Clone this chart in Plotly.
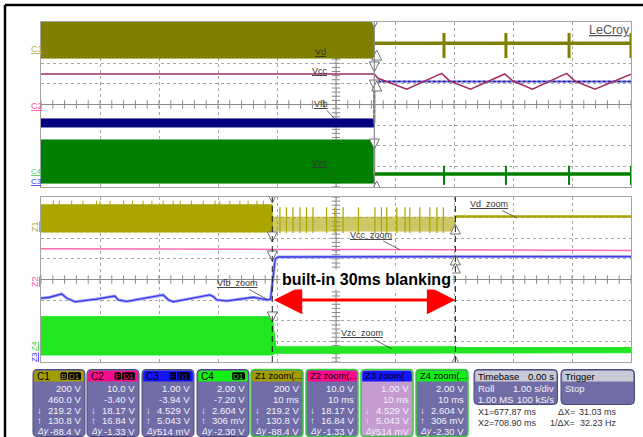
import plotly.graph_objects as go

W, H = 643, 437

# ---------------- top grid: 10 s roll, 1 s/div (vertical values in divisions) ----------------
event_t = 5.65                      # controller shuts down here
vd_band_t = [0.0, 5.65]
vd_band_hi = [4.3, 4.3]
vd_band_lo = [2.25, 2.25]
vd_idle_t = [5.65, 10.0]
vd_idle_y = [2.97, 2.97]
restart_t = [6.83, 7.88, 8.95, 10.0]
vd_restart_hi, vd_restart_lo = 3.47, 2.25

vcc_t = [0.0, 5.65, 5.71, 6.20, 6.79, 6.93, 7.28, 7.86, 8.00, 8.33, 8.91, 9.05, 9.39, 9.98, 10.0]
vcc_y = [1.48, 1.48, 1.27, 0.74, 1.51, 1.14, 0.74, 1.48, 1.14, 0.74, 1.51, 1.14, 0.74, 1.48, 1.47]

vfb_band_t = [0.0, 5.65]
vfb_band_hi = [-0.70, -0.70]
vfb_band_lo = [-1.09, -1.09]
vfb_idle_t = [5.65, 5.65, 10.0]
vfb_idle_y = [-0.90, 1.12, 1.12]

vzc_band_t = [0.0, 5.65]
vzc_band_hi = [-1.72, -1.72]
vzc_band_lo = [-3.81, -3.81]
vzc_idle_t = [5.65, 10.0]
vzc_idle_y = [-3.37, -3.37]
vzc_restart_hi, vzc_restart_lo = -2.97, -3.90

# ---------------- bottom grid: 10 ms/div zoom window ----------------
zoom_t0 = 638.67                    # ms at left edge of zoom window
cursor_x1 = 677.87
cursor_x2 = 708.90

# times below are relative to zoom_t0 (ms)
zvd_t = [0.0, 39.2]
zvd_hi = [3.62, 3.62]
zvd_lo = [2.30, 2.30]
zvd_spike_t = [2.1, 3.1, 5.2, 7.1, 9.4, 10.0, 11.7, 14.0, 15.5, 17.3, 18.8, 20.7,
               22.4, 23.6, 25.5, 27.5, 29.5, 30.3, 32.0, 33.7, 35.1, 36.6, 37.7]
zvd_spike_top = 3.82
zvd_blank_t = [39.2, 70.23]
zvd_blank_hi = [3.02, 3.02]
zvd_blank_lo = [2.35, 2.35]
zvd_blank_spike_t = [40.5, 41.6, 42.7, 43.9, 45.0, 46.1, 48.4, 49.8, 51.2, 53.8, 56.6,
                     57.7, 58.6, 60.3, 61.7, 62.5, 64.2, 65.9, 67.1, 68.2]
zvd_blank_spike_hi, zvd_blank_spike_lo = 3.50, 2.25
zvd_idle_t = [70.23, 100.0]
zvd_idle_y = [3.05, 3.05]

zvcc_t = [0.0, 39.2, 40.0, 55.0, 70.0, 85.0, 100.0]
zvcc_y = [1.49, 1.49, 1.46, 1.45, 1.43, 1.42, 1.41]

zvfb_t = [0, 1.5, 3.5, 4.4, 5.8, 9.4, 12.5, 13.1, 14.5, 20.2, 20.7, 21.6, 22.4, 28.6,
          29.2, 29.8, 31.5, 36.0, 38.3, 38.9, 39.3, 39.7, 40.2, 55, 70, 100]
zvfb_y = [-0.91, -0.86, -0.70, -0.91, -1.08, -0.95, -0.80, -0.99, -1.06, -0.80, -0.75,
          -0.99, -1.08, -0.75, -0.83, -0.99, -1.04, -0.86, -0.99, -0.96, -0.02, 0.99,
          1.09, 1.11, 1.11, 1.11]

zvzc_t = [0.0, 39.2, 39.8, 70.2, 70.3, 100.0]
zvzc_hi = [-1.80, -1.80, -3.26, -3.26, -3.30, -3.30]
zvzc_lo = [-3.66, -3.66, -3.58, -3.56, -3.55, -3.55]

# cursor markers (trace levels where cursors cross), divisions
top_marks_down = [3.71, 1.58, 0.70, -2.16]
top_marks_up = [2.64, 1.14, -3.71]
x1_marks = [3.71, 1.82, 0.90, -2.06]
x2_marks = [2.69, 1.19, 0.80, -3.71]

# readout panels
channel_boxes = [
    ("C1", ["B", "D1"], ["200 V", "460.0 V", "219.2 V", "130.8 V", "-88.4 V"]),
    ("C2", ["F", "D1"], ["10.0 V", "-3.40 V", "18.17 V", "16.84 V", "-1.33 V"]),
    ("C3", ["F", "D1"], ["1.00 V", "-3.94 V", "4.529 V", "5.043 V", "514 mV"]),
    ("C4", ["D1"], ["2.00 V", "-7.20 V", "2.604 V", "306 mV", "-2.30 V"]),
    ("Z1 zoom(...", [], ["200 V", "10 ms", "219.2 V", "130.8 V", "-88.4 V"]),
    ("Z2 zoom(...", [], ["10.0 V", "10 ms", "18.17 V", "16.84 V", "-1.33 V"]),
    ("Z3 zoom(", [], ["1.00 V", "10 ms", "4.529 V", "5.043 V", "514 mV"]),
    ("Z4 zoom(...", [], ["2.00 V", "10 ms", "2.604 V", "306 mV", "-2.30 V"]),
]

FONT = "Liberation Sans, Arial, sans-serif"
OLIVE, MAROON, NAVY, GREEN = "#808000", "#a32c62", "#000080", "#008000"
Z_OLIVE, Z_PINK, Z_BLUE, Z_GREEN = "#aba500", "#ff6ab4", "#3a3ae8", "#22e622"

fig = go.Figure()


def band(t, hi, lo):
    return list(t) + list(t)[::-1], list(hi) + list(lo)[::-1]


def spikes(ts, lo, hi):
    xs, ys = [], []
    for t in ts:
        xs += [t, t, None]
        ys += [lo, hi, None]
    return xs, ys


def shift(ts):
    return [None if t is None else zoom_t0 + t for t in ts]


def fill(x, y, color, xa, ya, opacity=1.0):
    fig.add_trace(go.Scatter(x=x, y=y, fill="toself", fillcolor=color, mode="lines",
                             line=dict(color=color, width=1), opacity=opacity,
                             xaxis=xa, yaxis=ya, hoverinfo="skip"))


def line(x, y, color, width, xa, ya, dash="solid"):
    fig.add_trace(go.Scatter(x=x, y=y, mode="lines",
                             line=dict(color=color, width=width, dash=dash),
                             xaxis=xa, yaxis=ya, hoverinfo="skip"))


# graticule ticks along the centre lines
for xa, ya, x0, span in (("x", "y", 0.0, 10.0), ("x2", "y2", zoom_t0, 100.0)):
    fig.add_trace(go.Scatter(x=[x0 + span * i / 50 for i in range(51)], y=[0] * 51, mode="markers",
                             marker=dict(symbol="line-ns", size=6, line=dict(color="#8a8a8a", width=1)),
                             xaxis=xa, yaxis=ya, hoverinfo="skip"))
    fig.add_trace(go.Scatter(x=[x0 + span / 2] * 41, y=[-4 + 0.2 * i for i in range(41)], mode="markers",
                             marker=dict(symbol="line-ew", size=6, line=dict(color="#8a8a8a", width=1)),
                             xaxis=xa, yaxis=ya, hoverinfo="skip"))

# ---- top grid traces ----
fill(*band(vd_band_t, vd_band_hi, vd_band_lo), OLIVE, "x", "y")
line(vd_idle_t, vd_idle_y, OLIVE, 3.5, "x", "y")
line(*spikes(restart_t, vd_restart_lo, vd_restart_hi), OLIVE, 3, "x", "y")

fill(*band(vfb_band_t, vfb_band_hi, vfb_band_lo), NAVY, "x", "y")
line(vfb_idle_t, vfb_idle_y, "#7a7ae6", 2, "x", "y")
line(vfb_idle_t, vfb_idle_y, "#1a1aa0", 1.5, "x", "y", dash="3px,2px")

line(vcc_t, vcc_y, MAROON, 1.5, "x", "y")

fill(*band(vzc_band_t, vzc_band_hi, vzc_band_lo), GREEN, "x", "y")
line([event_t, event_t], [vzc_band_hi[-1], vzc_idle_y[0]], "#3cf03c", 2, "x", "y")
line(vzc_idle_t, vzc_idle_y, GREEN, 3.5, "x", "y")
line(*spikes(restart_t, vzc_restart_lo, vzc_restart_hi), GREEN, 2, "x", "y")

# ---- zoom grid traces ----
fill(*band(shift(zvd_t), zvd_hi, zvd_lo), Z_OLIVE, "x2", "y2")
line(*spikes(shift(zvd_spike_t), zvd_hi[0] - 0.2, zvd_spike_top), Z_OLIVE, 1, "x2", "y2")
fill(*band(shift(zvd_blank_t), zvd_blank_hi, zvd_blank_lo), Z_OLIVE, "x2", "y2", opacity=0.6)
line(*spikes(shift(zvd_blank_spike_t), zvd_blank_spike_lo, zvd_blank_spike_hi), Z_OLIVE, 1.2, "x2", "y2")
line(shift(zvd_idle_t), zvd_idle_y, Z_OLIVE, 2.5, "x2", "y2")

line(shift(zvcc_t), zvcc_y, Z_PINK, 1.5, "x2", "y2")

line(shift(zvfb_t), zvfb_y, "#a4a4f6", 3, "x2", "y2")
line(shift(zvfb_t), zvfb_y, Z_BLUE, 1.3, "x2", "y2")

fill(*band(shift(zvzc_t), zvzc_hi, zvzc_lo), Z_GREEN, "x2", "y2")

# cursor markers
arrow_style = dict(size=10, color="white", line=dict(color="#707070", width=1))
fig.add_trace(go.Scatter(x=[event_t] * len(top_marks_down), y=top_marks_down, mode="markers",
                         marker=dict(symbol="arrow-down", **arrow_style), xaxis="x", yaxis="y"))
fig.add_trace(go.Scatter(x=[event_t + 0.04] * len(top_marks_up), y=top_marks_up, mode="markers",
                         marker=dict(symbol="arrow-up", **arrow_style), xaxis="x", yaxis="y"))
fig.add_trace(go.Scatter(x=[cursor_x1] * len(x1_marks), y=x1_marks, mode="markers",
                         marker=dict(symbol="arrow-down", **arrow_style), xaxis="x2", yaxis="y2"))
fig.add_trace(go.Scatter(x=[cursor_x2] * len(x2_marks), y=x2_marks, mode="markers",
                         marker=dict(symbol="arrow-up", **arrow_style), xaxis="x2", yaxis="y2"))

# trigger position / level markers
fig.add_trace(go.Scatter(x=[5.0], y=[-4.22], mode="markers", cliponaxis=False,
                         marker=dict(symbol="triangle-up", size=7, color="#b8b000"), xaxis="x", yaxis="y"))
fig.add_trace(go.Scatter(x=[10.09], y=[2.64], mode="markers", cliponaxis=False,
                         marker=dict(symbol="triangle-left", size=7, color="#b8b000"), xaxis="x", yaxis="y"))


def PX(px):
    return px / W


def PY(py):
    return 1 - py / H


grid_common = dict(showgrid=True, gridcolor="#a8a8a8", griddash="dot", gridwidth=1,
                   showline=True, mirror=True, linecolor="#a4a4a4", linewidth=1,
                   showticklabels=False, ticks="", fixedrange=True)
fig.update_layout(
    width=W, height=H, margin=dict(l=0, r=0, t=0, b=0), autosize=False,
    paper_bgcolor="white", plot_bgcolor="white", showlegend=False,
    font=dict(family=FONT),
    xaxis=dict(domain=[PX(41), PX(631)], range=[0, 10], dtick=1, tick0=0, zeroline=False,
               anchor="y", **grid_common),
    yaxis=dict(domain=[PY(187), PY(22)], range=[-4, 4], dtick=1, zeroline=True,
               zerolinecolor="#8a8a8a", zerolinewidth=1, anchor="x", **grid_common),
    xaxis2=dict(domain=[PX(41), PX(631)], range=[zoom_t0, zoom_t0 + 100], dtick=10,
                tick0=zoom_t0, zeroline=False, anchor="y2", **grid_common),
    yaxis2=dict(domain=[PY(362), PY(197)], range=[-4, 4], dtick=1, zeroline=True,
                zerolinecolor="#8a8a8a", zerolinewidth=1, anchor="x2", **grid_common),
)

shapes = []
# centre vertical graticule lines
shapes.append(dict(type="line", xref="x", yref="y domain", x0=5, x1=5, y0=0, y1=1,
                   line=dict(color="#8a8a8a", width=1), layer="below"))
shapes.append(dict(type="line", xref="x2", yref="y2 domain", x0=zoom_t0 + 50, x1=zoom_t0 + 50,
                   y0=0, y1=1, line=dict(color="#8a8a8a", width=1), layer="below"))
# cursors
shapes.append(dict(type="line", xref="x", yref="y domain", x0=event_t, x1=event_t, y0=0, y1=1,
                   line=dict(color="#8c8c8c", width=1.2)))
for cx in (cursor_x1, cursor_x2):
    shapes.append(dict(type="line", xref="x2", yref="y2 domain", x0=cx, x1=cx, y0=0, y1=1,
                       line=dict(color="#1a1a1a", width=1, dash="6px,4px")))
# outer frame
shapes.append(dict(type="line", xref="paper", yref="paper", x0=PX(5), x1=1, y0=PY(5), y1=PY(5),
                   line=dict(color="black", width=2.5)))
shapes.append(dict(type="line", xref="paper", yref="paper", x0=PX(5), x1=PX(5), y0=PY(5), y1=0,
                   line=dict(color="black", width=2.5)))


def rrect(x0, y0, x1, y1, r, fillcolor, linecolor=None, lw=1, top_only=False):
    def P(x, y):
        return f"{PX(x):.5f},{PY(y):.5f}"
    rb = 0 if top_only else r
    path = (f"M {P(x0 + r, y0)} L {P(x1 - r, y0)} Q {P(x1, y0)} {P(x1, y0 + r)} "
            f"L {P(x1, y1 - rb)} Q {P(x1, y1)} {P(x1 - rb, y1)} L {P(x0 + rb, y1)} "
            f"Q {P(x0, y1)} {P(x0, y1 - rb)} L {P(x0, y0 + r)} Q {P(x0, y0)} {P(x0 + r, y0)} Z")
    return dict(type="path", xref="paper", yref="paper", path=path, fillcolor=fillcolor,
                line=dict(color=linecolor or fillcolor, width=lw if linecolor else 0))


annotations = []


def txt(px, py, text, size=10, color="black", xanchor="center", **kw):
    annotations.append(dict(xref="paper", yref="paper", x=PX(px), y=PY(py), text=text,
                            showarrow=False, xanchor=xanchor, yanchor="middle", borderpad=0,
                            font=dict(family=FONT, size=size, color=color), **kw))


BODY, BODY_Z3 = "#6f6ca6", "#c49cd0"
ROW_TEXT = "#f2f2fa"
header_colors = ["#a39c00", "#ff0a8c", "#1414ff", "#14f014", "#a39c00", "#ff0a8c", "#1414ff", "#14f014"]
box_lefts = [33, 87, 142, 197, 251, 306, 361, 416]
row_y = [388.3, 399.0, 410.0, 420.7, 431.3]
for i, (title, badges, rows) in enumerate(channel_boxes):
    L = box_lefts[i]
    R = L + 52
    is_zoom = title.startswith("Z")
    body = BODY_Z3 if title.startswith("Z3") else BODY
    shapes.append(rrect(L, 369.5, R, 436.5, 4, body,
                        "#38cc38" if is_zoom else "#4a4a7a", 1.5 if is_zoom else 1))
    shapes.append(rrect(L + 1.2, 370.7, R - 1.2, 381.5, 3, header_colors[i], top_only=True))
    txt(L + 3, 376.2, title, size=9.3 if is_zoom else 10, xanchor="left")
    bx = R - 4
    for b in reversed(badges):
        bw = 13 if len(b) > 1 else 6.5
        shapes.append(rrect(bx - bw, 372.3, bx, 379.8, 1.5, "black"))
        txt(bx - bw / 2, 376.2, b, size=8, color=header_colors[i])
        bx -= bw + 1
    for k, v in enumerate(rows):
        txt(R - 3, row_y[k], v, size=9.5, color=ROW_TEXT, xanchor="right")
    for k, g in ((2, "↓"), (3, "↑"), (4, "<i>Δy</i>")):
        txt(L + 2.5, row_y[k], g, size=8.5 if k == 4 else 9.5, color=ROW_TEXT, xanchor="left")

# timebase and trigger panels
shapes.append(rrect(474, 369.5, 557.5, 404.5, 4, BODY, "#4a4a7a"))
shapes.append(rrect(475.2, 370.7, 556.3, 381.5, 3, "#c9c9d6", top_only=True))
shapes.append(rrect(561, 369.5, 634.5, 404.5, 4, BODY, "#4a4a7a"))
shapes.append(rrect(562.2, 370.7, 633.3, 381.5, 3, "#c9c9d6", top_only=True))
txt(477, 376.2, "Timebase", size=9.5, xanchor="left")
txt(555, 376.2, "0.00 s", size=9.5, xanchor="right")
txt(477, 388.3, "Roll", size=9.5, color=ROW_TEXT, xanchor="left")
txt(555, 388.3, "1.00 s/div", size=9.5, color=ROW_TEXT, xanchor="right")
txt(477, 399.0, "1.00 MS", size=9.5, color=ROW_TEXT, xanchor="left")
txt(555, 399.0, "100 kS/s", size=9.5, color=ROW_TEXT, xanchor="right")
txt(564, 376.2, "Trigger", size=9.5, xanchor="left")
txt(564, 388.3, "Stop", size=9.5, color=ROW_TEXT, xanchor="left")

# cursor readouts
dx = cursor_x2 - cursor_x1
RD = dict(size=9, color="#333333")
txt(477, 412, "X1=", xanchor="left", **RD)
txt(538, 412, f"{cursor_x1:.2f} ms", xanchor="right", **RD)
txt(576, 412, "ΔX=", xanchor="right", **RD)
txt(618, 412, f"{dx:.2f} ms", xanchor="right", **RD)
txt(477, 423, "X2=", xanchor="left", **RD)
txt(538, 423, f"{cursor_x2:.2f} ms", xanchor="right", **RD)
txt(576, 423, "1/ΔX=", xanchor="right", **RD)
txt(618, 423, f"{1000 / dx:.2f} Hz", xanchor="right", **RD)

# channel tags at left edge
txt(36.5, 49, "<u>C1</u>", size=9, color="#b8b040")
txt(37, 106, "<u>C2</u>", size=9, color="#ff50a0")
txt(36.5, 171.5, "<u>C4</u>", size=8, color="#40d040")
txt(36.5, 181.5, "<u>C3</u>", size=8, color="#3030ff")
txt(35, 227, "<u>Z1</u>", size=9, color="#b0a830", textangle=-90)
txt(35, 282, "<u>Z2</u>", size=9, color="#ff50a0", textangle=-90)
txt(34, 346, "<u>Z4</u>", size=8, color="#40d040", textangle=-90)
txt(34, 357, "<u>Z3</u>", size=8, color="#3030ff", textangle=-90)

txt(609, 30, "<u>LeCroy</u>", size=12.5, color="#555555")

# trace names
trace_labels = [
    ("x", "y", 4.73, 2.55, "Vd", 0, 0),
    ("x", "y", 4.73, 1.62, "Vcc", 0, 0),
    ("x", "y", 4.98, -0.70, "Vfb", -14, -15),
    ("x", "y", 5.02, -3.66, "Vzc", -17, -17),
    ("x2", "y2", zoom_t0 + 80.7, 2.98, "Vd_zoom", -28, -14),
    ("x2", "y2", zoom_t0 + 60.8, 1.45, "Vcc_zoom", -29, -15),
    ("x2", "y2", zoom_t0 + 38.5, -0.99, "Vfb_zoom", -31, -17),
    ("x2", "y2", zoom_t0 + 59.5, -3.37, "Vzc_zoom", -30, -16),
]
for xa, ya, x, y, name, ax, ay in trace_labels:
    a = dict(xref=xa, yref=ya, x=x, y=y, text=f"<u>{name}</u>",
             font=dict(family=FONT, size=9, color="#333333"))
    if ax or ay:
        a.update(showarrow=True, ax=ax, ay=ay, arrowhead=0, arrowwidth=0.8, arrowcolor="#444444")
    else:
        a.update(showarrow=False)
    annotations.append(a)

# blanking window: double arrow between the cursors and its label
annotations.append(dict(xref="x2", yref="y2", x=cursor_x2, y=-0.99, ax=cursor_x1, ay=-0.99,
                        axref="x2", ayref="y2", showarrow=True, arrowside="end+start",
                        arrowhead=2, arrowsize=1.9, arrowwidth=3, arrowcolor="#ff0000", text=""))
annotations.append(dict(xref="x2", yref="y2", x=(cursor_x1 + cursor_x2) / 2 + 0.5, y=0,
                        text="<b>built-in 30ms blanking</b>", showarrow=False, bgcolor="white",
                        xanchor="center", yanchor="middle",
                        font=dict(family=FONT, size=16, color="black")))

fig.update_layout(shapes=shapes, annotations=annotations)
fig.write_html("out.html", config={"displayModeBar": False})
